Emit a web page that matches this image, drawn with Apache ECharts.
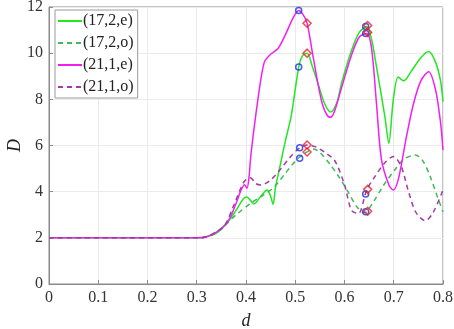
<!DOCTYPE html>
<html>
<head>
<meta charset="utf-8">
<script src="https://cdn.jsdelivr.net/npm/echarts@6/dist/echarts.min.js"></script>
<style>
  html, body { margin: 0; padding: 0; background: #fff; }
  #chart { width: 454px; height: 329px; }
</style>
</head>
<body>
<div id="chart"></div>
<script>
// legend names
const names = ['(17,2,e)', '(17,2,o)', '(21,1,e)', '(21,1,o)'];

// [d, D]
const green_e = [[0,2],[0.3,2],[0.32,2.05],[0.34,2.2],[0.36,2.6],[0.38,3.2],[0.395,3.7],[0.402,3.77],[0.41,3.6],[0.416,3.47],
  [0.43,3.8],[0.443,4.07],[0.45,3.8],[0.455,3.45],[0.46,4.2],[0.47,5.2],[0.48,6.2],[0.492,7.3],[0.507,9.4],[0.515,9.9],
  [0.524,10.0],[0.535,9.4],[0.546,8.7],[0.56,7.8],[0.572,7.45],[0.585,7.9],[0.594,8.7],[0.614,10.1],[0.63,10.9],[0.645,11.15],
  [0.655,10.6],[0.665,9.4],[0.682,7.25],[0.69,6.1],[0.699,7.97],[0.709,8.97],[0.72,8.8],[0.735,9.2],[0.755,9.8],[0.771,10.07],
  [0.785,9.6],[0.795,8.8],[0.8,7.9]];
const green_o = [[0,2],[0.3,2],[0.32,2.03],[0.35,2.4],[0.38,3.0],[0.41,3.5],[0.435,3.85],[0.457,4.2],[0.48,4.8],[0.495,5.2],
  [0.509,5.5],[0.524,5.72],[0.537,5.85],[0.55,5.7],[0.57,5.2],[0.59,4.6],[0.607,4.0],[0.625,3.35],[0.64,3.1],[0.645,3.13],
  [0.66,3.6],[0.68,4.3],[0.702,4.94],[0.72,5.4],[0.744,5.59],[0.76,5.3],[0.775,4.6],[0.79,3.7],[0.8,3.13]];
const magenta_e = [[0,2],[0.3,2],[0.32,2.05],[0.34,2.25],[0.363,2.7],[0.38,3.5],[0.39,4.07],[0.397,4.3],[0.402,4.15],[0.406,4.6],
  [0.41,5.6],[0.424,7.97],[0.437,9.6],[0.45,9.95],[0.465,10.2],[0.48,10.8],[0.495,11.5],[0.507,11.85],[0.515,11.7],[0.524,11.3],
  [0.535,10.0],[0.545,8.8],[0.555,7.8],[0.565,7.3],[0.572,7.22],[0.58,7.5],[0.594,8.5],[0.614,9.9],[0.63,10.7],[0.645,10.85],
  [0.655,10.2],[0.665,7.8],[0.675,5.4],[0.69,4.3],[0.699,4.07],[0.71,4.6],[0.725,6.3],[0.74,7.8],[0.755,8.8],[0.771,9.2],
  [0.785,8.4],[0.795,7.0],[0.8,5.8]];
const magenta_o = [[0,2],[0.3,2],[0.32,2.05],[0.355,2.5],[0.375,3.4],[0.396,4.43],[0.409,4.6],[0.42,4.35],[0.43,4.29],[0.45,4.5],
  [0.471,5.0],[0.49,5.5],[0.509,5.9],[0.524,6.02],[0.54,5.95],[0.56,5.7],[0.58,5.35],[0.6,4.3],[0.614,3.2],[0.628,3.05],
  [0.645,4.07],[0.66,4.6],[0.68,5.2],[0.699,5.52],[0.715,5.1],[0.73,4.0],[0.745,3.1],[0.764,2.74],[0.78,3.1],[0.8,4.07]];

// marked points
const bluePts = [[0.507,11.85],[0.507,9.4],[0.509,5.9],[0.509,5.45],[0.643,11.15],[0.643,10.85],[0.643,3.9],[0.643,3.13]];
const redPts = [[0.524,11.3],[0.524,10.0],[0.524,6.02],[0.524,5.72],[0.647,11.2],[0.647,10.9],[0.647,4.1],[0.647,3.15]];

const font = '"Liberation Serif", "Times New Roman", serif';

const chart = echarts.init(document.getElementById('chart'));

const lineSeries = (name, data, color, type) => ({
  name: name,
  type: 'line',
  data: data,
  smooth: 0.3,
  showSymbol: false,
  symbol: 'none',
  lineStyle: { color: color, width: 1.5, type: type },
  itemStyle: { color: color },
  z: 2
});

const option = {
  animation: false,
  grid: {
    left: 49, right: 11, top: 7, bottom: 45,
    outerBoundsMode: 'none', containLabel: false,
    show: true, borderColor: '#8a8a8a', borderWidth: 1
  },
  legend: {
    left: 55, top: 10,
    orient: 'vertical',
    itemWidth: 24, itemHeight: 10, itemGap: 6,
    backgroundColor: '#fff',
    borderColor: '#9a9a9a', borderWidth: 1, borderRadius: 0,
    padding: [3, 4, 3, 2],
    itemStyle: { opacity: 0 },
    textStyle: { fontFamily: font, fontSize: 16, color: '#222', padding: [0, 0, 0, -4] },
    data: names
  },
  xAxis: {
    type: 'value', min: 0, max: 0.8, interval: 0.1,
    name: 'd', nameLocation: 'middle', nameGap: 28, nameMoveOverlap: false,
    nameTextStyle: { fontFamily: font, fontStyle: 'italic', fontSize: 18, color: '#222' },
    axisLine: { show: true, lineStyle: { color: '#8a8a8a' } },
    axisTick: { inside: true, length: 4, lineStyle: { color: '#8a8a8a' } },
    axisLabel: { fontFamily: font, fontSize: 16, color: '#333', margin: 6, formatter: v => String(+v.toFixed(1)) },
    splitLine: { show: true, lineStyle: { color: '#ebebeb' } }
  },
  yAxis: {
    type: 'value', min: 0, max: 12, interval: 2,
    name: 'D', nameLocation: 'middle', nameGap: 25, nameRotate: 90, nameMoveOverlap: false,
    nameTextStyle: { fontFamily: font, fontStyle: 'italic', fontSize: 18, color: '#222' },
    axisLine: { show: true, lineStyle: { color: '#8a8a8a' } },
    axisTick: { inside: true, length: 4, lineStyle: { color: '#8a8a8a' } },
    axisLabel: { fontFamily: font, fontSize: 16, color: '#333', margin: 6 },
    splitLine: { show: true, lineStyle: { color: '#ebebeb' } }
  },
  series: [
    lineSeries(names[0], green_e, '#22e622', 'solid'),
    lineSeries(names[1], green_o, '#3dba5a', [5, 4]),
    lineSeries(names[2], magenta_e, '#f21ff2', 'solid'),
    lineSeries(names[3], magenta_o, '#a43aa8', [5, 4]),
    {
      type: 'scatter', data: bluePts, symbol: 'circle', symbolSize: 6,
      itemStyle: { color: 'rgba(0,0,0,0)', borderColor: '#1a33dd', borderWidth: 1.5 }, z: 5
    },
    {
      type: 'scatter', data: redPts, symbol: 'diamond', symbolSize: 8,
      itemStyle: { color: 'rgba(0,0,0,0)', borderColor: '#e8202a', borderWidth: 1.5 }, z: 6
    }
  ]
};

chart.setOption(option);
</script>
</body>
</html>
